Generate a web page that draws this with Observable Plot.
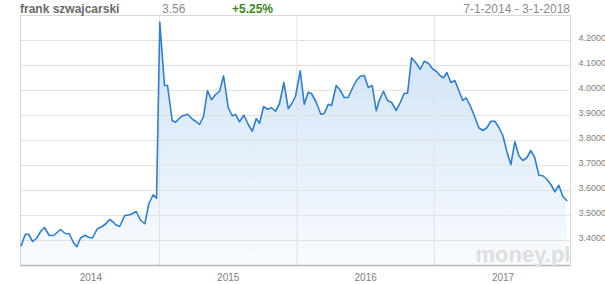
<!DOCTYPE html>
<html><head><meta charset="utf-8">
<script src="https://cdn.jsdelivr.net/npm/d3@7"></script>
<script src="https://cdn.jsdelivr.net/npm/@observablehq/plot@0.6"></script>
<style>
body{margin:0;background:#fff;font-family:"Liberation Sans",Arial,sans-serif;}
#head{position:relative;width:605px;height:14px;}
#head span{position:absolute;top:2px;font-size:12px;line-height:14px;white-space:nowrap;}
#chart svg{display:block;}
</style></head><body>
<div id="head"></div>
<div id="chart"></div>
<script>
const title = "frank szwajcarski";
const lastValue = "3.56";
const change = "+5.25%";
const period = "7-1-2014 - 3-1-2018";
const watermark = "money.pl";

// time in decimal years
const years = [
 2013.993,2014.023,2014.047,2014.076,2014.107,2014.134,2014.163,2014.197,2014.229,2014.279,
 2014.314,2014.343,2014.372,2014.398,2014.425,2014.459,2014.483,2014.512,2014.547,2014.580,
 2014.609,2014.636,2014.665,2014.680,2014.710,2014.747,2014.789,2014.830,2014.862,2014.893,
 2014.922,2014.954,2014.978,2015.002,2015.036,2015.058,2015.092,2015.116,2015.160,2015.204,
 2015.242,2015.262,2015.291,2015.320,2015.349,2015.378,2015.408,2015.437,2015.466,2015.500,
 2015.529,2015.553,2015.582,2015.614,2015.646,2015.675,2015.704,2015.728,2015.757,2015.786,
 2015.815,2015.844,2015.873,2015.905,2015.937,2015.960,2015.990,2016.024,2016.053,2016.082,
 2016.106,2016.140,2016.174,2016.199,2016.228,2016.252,2016.286,2016.315,2016.344,2016.373,
 2016.402,2016.432,2016.461,2016.490,2016.519,2016.548,2016.577,2016.601,2016.630,2016.659,
 2016.689,2016.723,2016.752,2016.781,2016.805,2016.834,2016.868,2016.897,2016.927,2016.956,
 2016.985,2017.014,2017.043,2017.067,2017.091,2017.120,2017.149,2017.178,2017.207,2017.232,
 2017.266,2017.295,2017.324,2017.353,2017.382,2017.411,2017.440,2017.469,2017.499,2017.528,
 2017.557,2017.586,2017.615,2017.644,2017.673,2017.702,2017.731,2017.761,2017.790,2017.819,
 2017.848,2017.877,2017.906,2017.935,2017.964
];
// CHF/PLN rate
const rates = [
 3.380,3.425,3.425,3.396,3.410,3.436,3.452,3.420,3.420,3.444,
 3.428,3.427,3.393,3.375,3.410,3.421,3.413,3.410,3.447,3.455,
 3.467,3.484,3.473,3.463,3.456,3.500,3.504,3.516,3.481,3.467,
 3.547,3.583,3.569,4.273,4.020,4.020,3.880,3.873,3.897,3.905,
 3.884,3.877,3.864,3.896,4.000,3.963,3.984,3.997,4.059,3.931,
 3.899,3.904,3.875,3.901,3.864,3.837,3.888,3.869,3.936,3.925,
 3.931,3.917,3.947,4.032,3.927,3.945,3.977,4.079,3.945,3.993,
 3.988,3.953,3.905,3.908,3.945,3.940,4.020,4.001,3.972,3.972,
 4.007,4.039,4.057,4.060,4.012,4.020,3.919,3.963,3.997,3.960,
 3.952,3.920,3.952,3.989,3.989,4.131,4.109,4.085,4.117,4.109,
 4.088,4.077,4.059,4.051,4.072,4.032,4.040,4.000,3.960,3.971,
 3.933,3.893,3.851,3.840,3.851,3.877,3.877,3.853,3.819,3.755,
 3.704,3.795,3.739,3.720,3.731,3.760,3.731,3.661,3.659,3.645,
 3.624,3.595,3.621,3.576,3.560
];
const yTicks = [3.4,3.5,3.6,3.7,3.8,3.9,4.0,4.1,4.2];
const yearLabels = [2014,2015,2016,2017];
const yearBounds = [2015,2016,2017];

const head = document.getElementById("head");
function span(text, css){ const s=document.createElement("span"); s.textContent=text; Object.assign(s.style, css); head.appendChild(s); }
span(title,{left:"20px",fontWeight:"bold",color:"#6a6a6a"});
span(lastValue,{left:"162px",color:"#8a8a8a"});
span(change,{left:"232px",fontWeight:"bold",color:"#3b8a1c"});
span(period,{right:"35px",color:"#8a8a8a"});

const data = years.map((t,i)=>({t, v: rates[i]}));
const gradient = () => {
  const defs = document.createElementNS("http://www.w3.org/2000/svg","defs");
  defs.innerHTML = '<linearGradient id="areaGrad" x1="0" y1="0" x2="0" y2="1"><stop offset="0" stop-color="#cde1f6"/><stop offset="1" stop-color="#f8fbfe"/></linearGradient>';
  return defs;
};
const chart = Plot.plot({
  width:605, height:270, marginTop:1, marginLeft:20, marginRight:35, marginBottom:19,
  x:{type:"linear", domain:[2013.988, 2017.991]},
  y:{domain:[3.3,4.3]},
  style:{fontFamily:"Liberation Sans, Arial, sans-serif", color:"#808080", background:"#fff"},
  marks:[
    gradient,
    Plot.areaY(data,{x:"t",y1:3.3,y2:"v",fill:"url(#areaGrad)"}),
    Plot.ruleY(yTicks,{stroke:"#e2e2e2"}),
    Plot.ruleX(yearBounds,{stroke:"#e2e2e2"}),
    Plot.frame({stroke:"#d8d8d8"}),
    Plot.ruleY([3.3],{stroke:"#b8b8b8", strokeWidth:1.5}),
    Plot.text([watermark],{text:d=>d, frameAnchor:"bottom-right", dy:-4, fontSize:22, fontWeight:"bold", fill:"#dedede"}),
    Plot.line(data,{x:"t",y:"v",stroke:"#2f7fd1",strokeWidth:1.6}),
    Plot.axisY(yTicks,{anchor:"right", tickSize:0, tickPadding:8, tickFormat:d3.format(".4f"), fontSize:9, dy:-2, label:null}),
    Plot.axisX(yearLabels.map(y=>y+0.5),{tickSize:0, tickPadding:8, tickFormat:d=>String(Math.floor(d)), fontSize:10, label:null})
  ]
});
document.getElementById("chart").appendChild(chart);
</script>
</body></html>
